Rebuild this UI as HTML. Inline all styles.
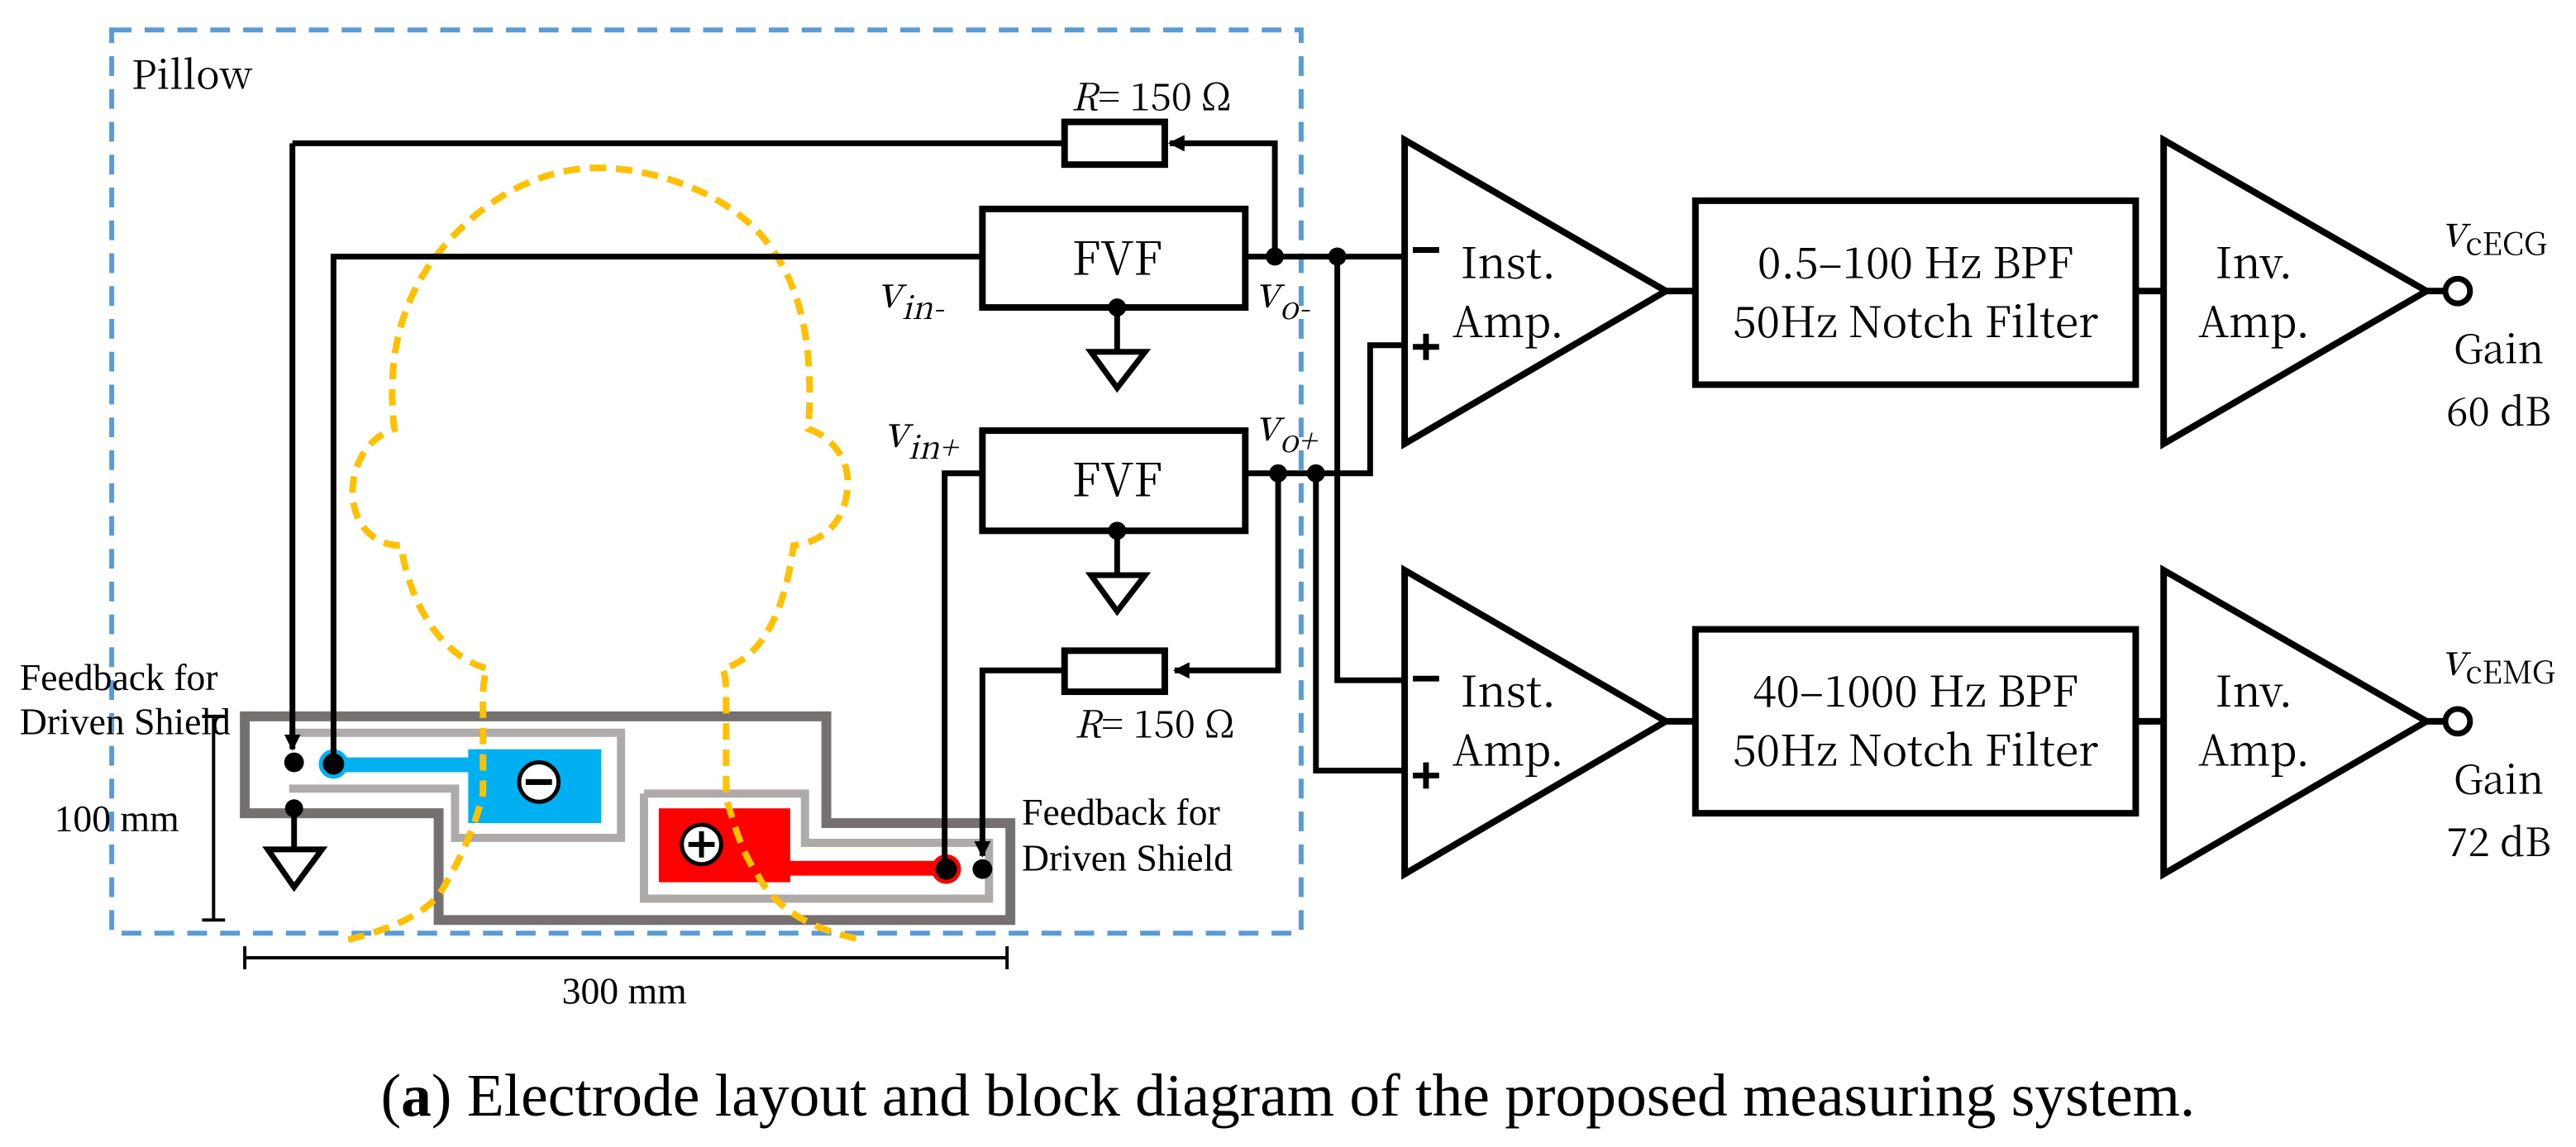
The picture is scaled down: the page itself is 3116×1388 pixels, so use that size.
<!DOCTYPE html>
<html><head><meta charset="utf-8"><style>
html,body{margin:0;padding:0;background:#fff;}
svg{display:block;}
svg text{font-family:"Liberation Serif","Noto Serif CJK SC","DejaVu Serif",serif;fill:#000;}
svg text.m, svg text.m tspan{font-family:"Noto Serif CJK SC","Liberation Serif","DejaVu Serif",serif;}
</style></head><body>
<svg width="3116" height="1388" viewBox="0 0 1568 698" xmlns="http://www.w3.org/2000/svg">
<defs>
<marker id="ar" markerWidth="10" markerHeight="10" refX="9" refY="5" orient="auto" markerUnits="userSpaceOnUse">
<path d="M0,0 L10,5 L0,10 z" fill="#000"/>
</marker>
</defs>
<rect width="1568" height="698" fill="#fff"/>

<polygon points="149,436 503,436 503,501 615,501 615,560 267,560 267,495 149,495" fill="none" stroke="#767171" stroke-width="6"/>
<polyline points="176,446 378,446 378,510 277,510 277,480 176,480" fill="none" stroke="#aeaaaa" stroke-width="5"/>
<polyline points="392,483 490,483 490,513 602,513 602,547 392,547 392,483" fill="none" stroke="#aeaaaa" stroke-width="5"/>
<rect x="285" y="456" width="81" height="45" fill="#00b0f0"/>
<rect x="203" y="461" width="84" height="9" fill="#00b0f0"/>
<circle cx="203" cy="465" r="9" fill="#00b0f0"/>
<circle cx="203" cy="465" r="6.5" fill="#000"/>
<circle cx="328" cy="476" r="12" fill="#fff" stroke="#000" stroke-width="2.5"/>
<line x1="320" y1="476" x2="336" y2="476" stroke="#000" stroke-width="3.5"/>
<rect x="401" y="492" width="80" height="45" fill="#f00"/>
<rect x="479" y="524" width="98" height="9" fill="#f00"/>
<circle cx="576" cy="529" r="9" fill="#f00"/>
<circle cx="576" cy="529" r="6.5" fill="#000"/>
<circle cx="427" cy="514" r="12" fill="#fff" stroke="#000" stroke-width="2.5"/>
<line x1="419" y1="514" x2="435" y2="514" stroke="#000" stroke-width="3"/>
<line x1="427" y1="506" x2="427" y2="522" stroke="#000" stroke-width="3"/>

<rect x="68" y="18" width="724" height="550" fill="none" stroke="#5b9bd5" stroke-width="3" stroke-dasharray="12,8"/>
<text class="m" x="80" y="54" font-size="24">Pillow</text>

<path d="M212,572 C240,565 262,555 270,540 C282,520 290,500 294,483 L294,425 C294,410 297,407 297,407 C270,400 250,370 244,332 C225,332 212,315 215,293 C218,275 228,265 240,261 C236,225 240,185 270,150 C300,115 335,102 364,102 C395,102 440,115 465,145 C490,175 495,215 492,261 C505,265 516,278 516,293 C516,318 500,330 483,332 C478,370 465,400 440,407 C442,412 442,420 442,425 L442,486 C448,505 452,520 461,532 C472,555 500,568 526,572" fill="none" stroke="#ffc000" stroke-width="4" stroke-dasharray="10,6"/>

<g stroke="#000" stroke-width="3.5" fill="none">
<polyline points="178,87 648,87"/>
<line x1="178" y1="87" x2="178" y2="456" marker-end="url(#ar)"/>
<polyline points="776,155 776,87 712,87" marker-end="url(#ar)"/>
<rect x="648" y="74" width="61" height="26" stroke-width="4"/>
<rect x="598" y="127" width="160" height="60" stroke-width="4"/>
<polyline points="203,465 203,156 598,156"/>
<line x1="758" y1="156" x2="854" y2="156"/>
<line x1="680" y1="187" x2="680" y2="214"/>
<polygon points="664,214 697,214 680,236" stroke-width="3.5"/>
<rect x="598" y="262" width="160" height="61" stroke-width="4"/>
<polyline points="575,529 575,288 598,288"/>
<polyline points="758,288 834,288 834,210 854,210"/>
<line x1="680" y1="323" x2="680" y2="350"/>
<polygon points="664,350 697,350 680,372" stroke-width="3.5"/>
<rect x="648" y="396" width="61" height="25" stroke-width="4"/>
<polyline points="778,288 778,408 715,408" marker-end="url(#ar)"/>
<polyline points="648,408 598,408 598,521" marker-end="url(#ar)"/>
<polyline points="814,156 814,414 854,414"/>
<polyline points="801,288 801,469 854,469"/>
<line x1="179" y1="492" x2="179" y2="517"/>
<polygon points="163,517 196,517 179,540" stroke-width="3.5"/>
</g>
<g fill="#000">
<circle cx="179" cy="464" r="6"/>
<circle cx="179" cy="492" r="5.5"/>
<circle cx="598" cy="529" r="6"/>
<circle cx="776" cy="156" r="5.5"/>
<circle cx="814" cy="156" r="5.5"/>
<circle cx="680" cy="187" r="5.5"/>
<circle cx="778" cy="288" r="5.5"/>
<circle cx="801" cy="288" r="5.5"/>
<circle cx="680" cy="323" r="5.5"/>
</g>

<text class="m" x="680" y="167" font-size="28" text-anchor="middle">FVF</text>
<text class="m" x="680" y="302" font-size="28" text-anchor="middle">FVF</text>
<text class="m" x="652" y="67" font-size="23"><tspan font-style="italic">R</tspan>= 150 Ω</text>
<text class="m" x="654" y="449" font-size="23"><tspan font-style="italic">R</tspan>= 150 Ω</text>
<text class="m" x="534" y="187" font-size="27" font-style="italic">v<tspan font-size="19" dy="7">in-</tspan></text>
<text class="m" x="764" y="187" font-size="27" font-style="italic">v<tspan font-size="19" dy="7">o-</tspan></text>
<text class="m" x="538" y="272" font-size="27" font-style="italic">v<tspan font-size="19" dy="7">in+</tspan></text>
<text class="m" x="764" y="268" font-size="27" font-style="italic">v<tspan font-size="19" dy="7">o+</tspan></text>

<text x="12" y="420" font-size="23">Feedback for</text>
<text x="12" y="447" font-size="23">Driven Shield</text>
<text x="622" y="502" font-size="23">Feedback for</text>
<text x="622" y="530" font-size="23">Driven Shield</text>

<g stroke="#000" stroke-width="2">
<line x1="130" y1="436" x2="130" y2="560"/>
<line x1="123" y1="436" x2="137" y2="436"/>
<line x1="123" y1="560" x2="137" y2="560"/>
<line x1="149" y1="583" x2="613" y2="583"/>
<line x1="149" y1="576" x2="149" y2="590"/>
<line x1="613" y1="576" x2="613" y2="590"/>
</g>
<text x="33" y="506" font-size="23">100 mm</text>
<text x="380" y="611" font-size="23" text-anchor="middle">300 mm</text>

<g stroke="#000" stroke-width="4" fill="none">
<polygon points="855,85 1014,177 855,270"/>
<rect x="1032" y="122" width="268" height="112"/>
<polygon points="1317,85 1477,177 1317,270"/>
<line x1="1014" y1="177" x2="1032" y2="177"/>
<line x1="1300" y1="177" x2="1317" y2="177"/>
<line x1="1477" y1="177" x2="1488" y2="177"/>
<circle cx="1496" cy="177" r="7.5" stroke-width="3.5"/>
<polygon points="855,347 1014,439 855,532"/>
<rect x="1032" y="383" width="268" height="112"/>
<polygon points="1317,347 1477,439 1317,532"/>
<line x1="1014" y1="439" x2="1032" y2="439"/>
<line x1="1300" y1="439" x2="1317" y2="439"/>
<line x1="1477" y1="439" x2="1488" y2="439"/>
<circle cx="1496" cy="439" r="7.5" stroke-width="3.5"/>
</g>
<g stroke="#000" stroke-width="3.5">
<line x1="860" y1="152" x2="876" y2="152"/>
<line x1="860" y1="211" x2="876" y2="211"/><line x1="868" y1="203" x2="868" y2="219"/>
<line x1="860" y1="413" x2="876" y2="413"/>
<line x1="860" y1="472" x2="876" y2="472"/><line x1="868" y1="464" x2="868" y2="480"/>
</g>
<g font-size="26">
<text class="m" x="918" y="169" text-anchor="middle">Inst.</text>
<text class="m" x="918" y="205" text-anchor="middle">Amp.</text>
<text class="m" x="1166" y="169" text-anchor="middle">0.5–100 Hz BPF</text>
<text class="m" x="1166" y="205" text-anchor="middle">50Hz Notch Filter</text>
<text class="m" x="1372" y="169" text-anchor="middle">Inv.</text>
<text class="m" x="1372" y="205" text-anchor="middle">Amp.</text>
<text class="m" x="918" y="430" text-anchor="middle">Inst.</text>
<text class="m" x="918" y="466" text-anchor="middle">Amp.</text>
<text class="m" x="1166" y="430" text-anchor="middle">40–1000 Hz BPF</text>
<text class="m" x="1166" y="466" text-anchor="middle">50Hz Notch Filter</text>
<text class="m" x="1372" y="430" text-anchor="middle">Inv.</text>
<text class="m" x="1372" y="466" text-anchor="middle">Amp.</text>
</g>
<text class="m" x="1486" y="150" font-size="27"><tspan font-style="italic">v</tspan><tspan font-size="19" dy="5">cECG</tspan></text>
<text class="m" x="1486" y="411" font-size="27"><tspan font-style="italic">v</tspan><tspan font-size="19" dy="5">cEMG</tspan></text>
<text class="m" x="1521" y="221" font-size="24" text-anchor="middle">Gain</text>
<text class="m" x="1521" y="259" font-size="24" text-anchor="middle">60 dB</text>
<text class="m" x="1521" y="483" font-size="24" text-anchor="middle">Gain</text>
<text class="m" x="1521" y="521" font-size="24" text-anchor="middle">72 dB</text>

<text x="784" y="679" font-size="37" text-anchor="middle">(<tspan font-weight="bold">a</tspan>) Electrode layout and block diagram of the proposed measuring system.</text>
</svg>
</body></html>
